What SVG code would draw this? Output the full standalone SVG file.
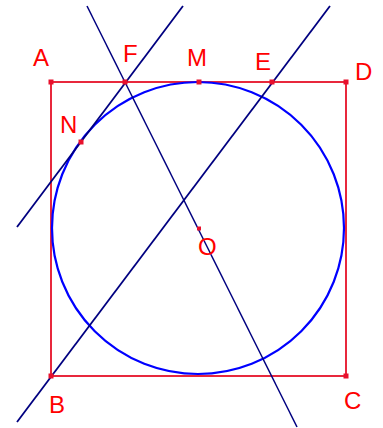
<svg xmlns="http://www.w3.org/2000/svg" width="383" height="428" viewBox="0 0 383 428">
<style>
.sq{fill:none;stroke:#e8283c;stroke-width:2}
.circ{fill:none;stroke:#0000ff;stroke-width:2.2}
.ln{stroke:#000080;stroke-width:1.8;fill:none}
.thin{stroke-width:1.5}
.pt{fill:#e8102c}
.lbl{font-family:"Liberation Sans",Arial,sans-serif;font-size:24px;fill:#ff0000}
</style>
<rect width="383" height="428" fill="#fff"/>
<g id="square"><rect class="sq" x="51" y="82" width="295" height="294"/></g>
<g id="circle"><circle class="circ" cx="198" cy="228" r="146"/></g>
<g id="connectors">
<line class="ln" x1="17" y1="227" x2="183" y2="6"/>
<line class="ln" x1="17" y1="422" x2="330" y2="6"/>
<line class="ln thin" x1="87" y1="6" x2="297" y2="427"/>
</g>
<g id="A"><rect class="pt" x="48.5" y="79.5" width="5" height="5"/><text class="lbl" x="33" y="66">A</text></g>
<g id="F"><rect class="pt" x="122.5" y="79.5" width="5" height="5"/><text class="lbl" x="123" y="62">F</text></g>
<g id="M"><rect class="pt" x="196.5" y="79.5" width="5" height="5"/><text class="lbl" x="187" y="66">M</text></g>
<g id="E"><rect class="pt" x="269.5" y="79.5" width="5" height="5"/><text class="lbl" x="255" y="70">E</text></g>
<g id="D"><rect class="pt" x="343.5" y="79.5" width="5" height="5"/><text class="lbl" x="355" y="80">D</text></g>
<g id="N"><rect class="pt" x="78.5" y="139.5" width="5" height="5"/><text class="lbl" x="60" y="133">N</text></g>
<g id="O"><rect class="pt" x="197" y="226.5" width="4" height="4"/><text class="lbl" x="198" y="255">O</text></g>
<g id="B"><rect class="pt" x="48.5" y="373.5" width="5" height="5"/><text class="lbl" x="49" y="413">B</text></g>
<g id="C"><rect class="pt" x="343.5" y="373.5" width="5" height="5"/><text class="lbl" x="344" y="409">C</text></g>
</svg>
